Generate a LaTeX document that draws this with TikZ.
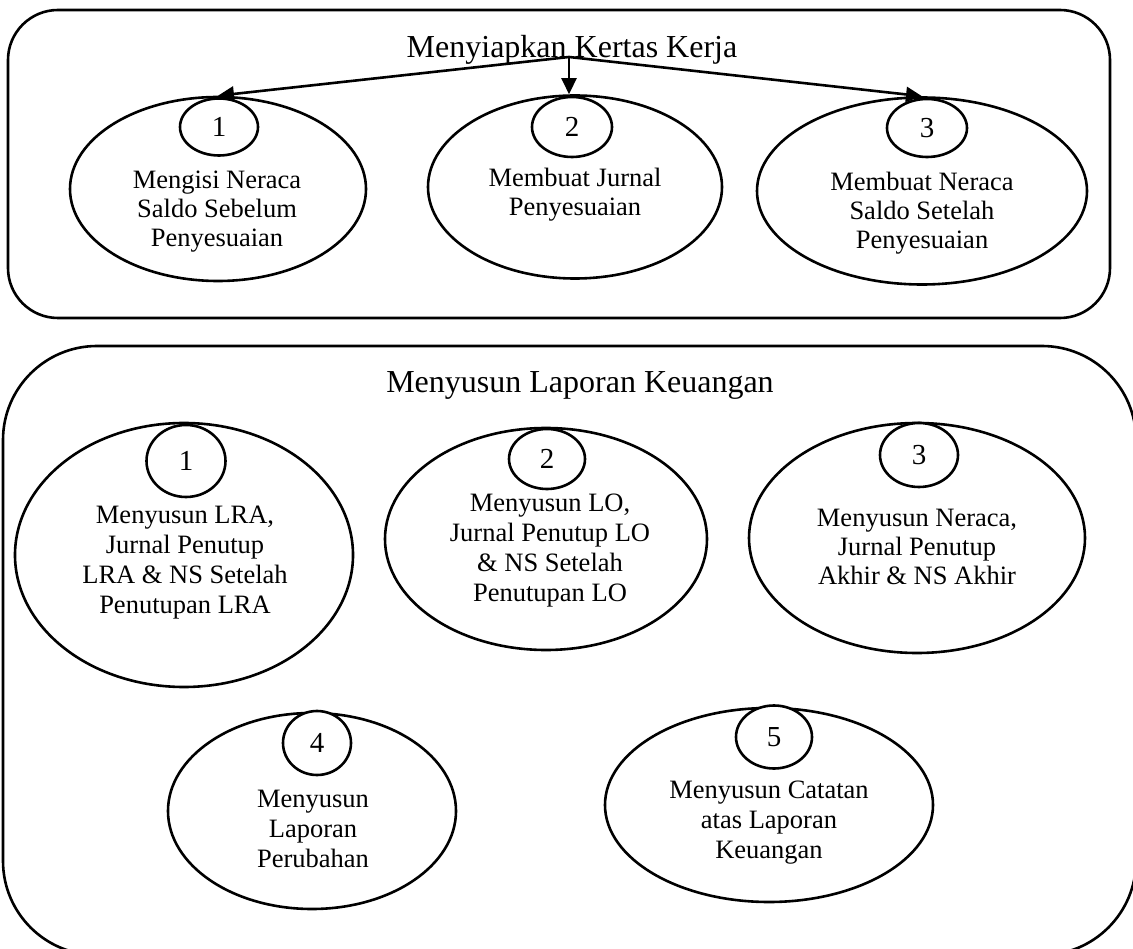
\documentclass[tikz,border=0pt]{standalone}
\usepackage{fontspec}
\setmainfont{Liberation Serif}
\usetikzlibrary{shapes.geometric,arrows.meta}
\begin{document}
\begin{tikzpicture}[x=1pt,y=-1pt,line width=2.6pt,
  bigell/.style={draw,ellipse,inner sep=0pt},
  numell/.style={draw,ellipse,inner sep=0pt,fill=white,font=\fontsize{29}{29}\selectfont},
  body/.style={align=center,inner sep=0pt,font=\fontsize{26.5}{29}\selectfont},
  bodyb/.style={align=center,inner sep=0pt,font=\fontsize{26.5}{30}\selectfont},
  heading/.style={inner sep=0pt,font=\fontsize{32}{32}\selectfont},
  arr/.style={-{Triangle[width=15pt,length=16pt]}}
]
\useasboundingbox (0,0) rectangle (1133,949);
\clip (0,0) rectangle (1133,949);

% group boxes
\draw[rounded corners=50pt] (8,10) rectangle (1110,318);
\draw[rounded corners=94pt] (3,346) rectangle (1136,955);

% top group
\node[heading,anchor=base] (t1) at (572,58) {Menyiapkan Kertas Kerja};
\coordinate (src) at (569,57);

\node[bigell,minimum width=296pt,minimum height=184pt] (e1) at (218,189) {};
\node[bigell,minimum width=294pt,minimum height=183pt] (e2) at (575,187) {};
\node[bigell,minimum width=330pt,minimum height=187pt] (e3) at (922,191) {};

\node[numell,minimum width=78pt,minimum height=57pt] (n1) at (219,127) {1};
\node[numell,minimum width=80pt,minimum height=60pt] (n2) at (572,127) {2};
\node[numell,minimum width=80pt,minimum height=58pt] (n3) at (927,128) {3};

\node[body] (l1) at (217,212) {Mengisi Neraca\\Saldo Sebelum\\Penyesuaian};
\node[body] (l2) at (575,195) {Membuat Jurnal\\Penyesuaian};
\node[body] (l3) at (922,213) {Membuat Neraca\\Saldo Setelah\\Penyesuaian};

\draw[arr] (src) -- (e1.north);
\draw[arr] (src) -- (src |- e2.north);
\draw[arr] (src) -- (e3.north);

% bottom group
\node[heading,anchor=base] (t2) at (580,393) {Menyusun Laporan Keuangan};

\node[bigell,minimum width=338pt,minimum height=264pt] (b1) at (184,555) {};
\node[bigell,minimum width=322pt,minimum height=222pt] (b2) at (546,539) {};
\node[bigell,minimum width=336pt,minimum height=230pt] (b3) at (917,538) {};
\node[bigell,minimum width=288pt,minimum height=196pt] (b4) at (312,811) {};
\node[bigell,minimum width=328pt,minimum height=194pt] (b5) at (769,805) {};

\node[numell,minimum width=79pt,minimum height=72pt] (m1) at (186,461) {1};
\node[numell,minimum width=76pt,minimum height=60pt] (m2) at (547,459) {2};
\node[numell,minimum width=78pt,minimum height=64pt] (m3) at (919,455) {3};
\node[numell,minimum width=68pt,minimum height=64pt] (m4) at (317,743) {4};
\node[numell,minimum width=76pt,minimum height=63pt] (m5) at (774,737) {5};

\node[bodyb] (k1) at (185,563) {Menyusun LRA,\\Jurnal Penutup\\LRA \& NS Setelah\\Penutupan LRA};
\node[bodyb] (k2) at (550,551) {Menyusun LO,\\Jurnal Penutup LO\\\& NS Setelah\\Penutupan LO};
\node[body] (k3) at (917,547) {Menyusun Neraca,\\Jurnal Penutup\\Akhir \& NS Akhir};
\node[bodyb] (k4) at (313,829) {Menyusun\\Laporan\\Perubahan};
\node[bodyb] (k5) at (769,823) {Menyusun Catatan\\atas Laporan\\Keuangan};
\end{tikzpicture}
\end{document}
